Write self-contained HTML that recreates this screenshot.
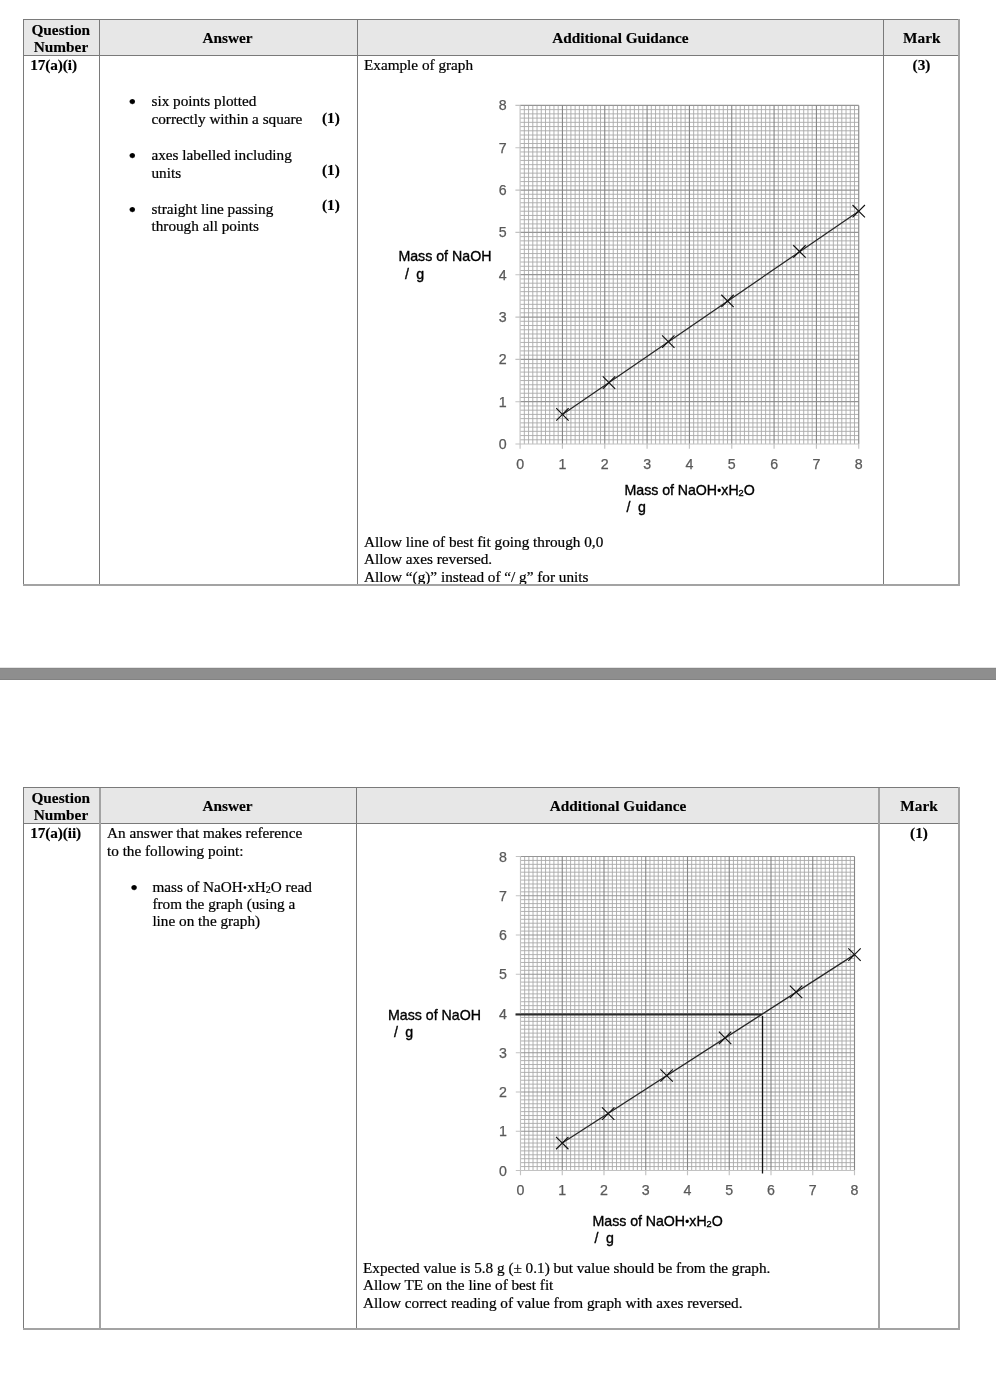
<!DOCTYPE html>
<html lang="en">
<head>
<meta charset="utf-8">
<title>Mark scheme 17(a)</title>
<style>
html,body{margin:0;padding:0;background:#fff;}
body{width:996px;height:1390px;position:relative;overflow:hidden;font-family:"Liberation Serif",serif;color:#000;}
#page{position:absolute;left:0;top:0;width:996px;height:1390px;will-change:transform;}
.tbl{position:absolute;box-sizing:border-box;background:#fff;}
.tbl:before{content:"";position:absolute;left:0;top:0;right:0;bottom:0;box-sizing:border-box;border:solid #7a7a7a;border-width:1px 0 0 1px;z-index:2;}
.tbl:after{content:"";position:absolute;left:0;top:0;right:0;bottom:0;box-sizing:border-box;border:solid #a3a3a3;border-width:0 2px 2px 0;z-index:2;}
.hd{position:absolute;left:0;top:0;right:0;background:#e7e7e7;border-bottom:1px solid #7a7a7a;box-sizing:border-box;}
.vl{position:absolute;top:0;bottom:0;z-index:1;}
.t{position:absolute;line-height:20px;white-space:nowrap;}
.s{font-family:"Liberation Serif",serif;-webkit-text-stroke:.22px #000;}
.b{font-family:"Liberation Serif",serif;font-weight:bold;-webkit-text-stroke:.15px #000;}
.g{font-family:"Liberation Sans",sans-serif;-webkit-text-stroke:.35px #000;}
.bar{position:absolute;left:0;width:996px;top:668px;height:12px;background:#8e8e8e;box-shadow:inset 0 1px 0 #878787,inset 0 -1px 0 #828282,0 -1px 0 rgba(120,120,120,.2);}
.graph{position:absolute;overflow:visible;}
.mn{fill:none;stroke:#a9a9a9;stroke-width:.9;}
.mj{fill:none;stroke:#858585;stroke-width:1.1;}
.mh{stroke:#959595;stroke-width:1.2;}
.tk{fill:none;stroke:#c2c2c2;stroke-width:1.15;}
.ln{fill:none;stroke:#262626;stroke-width:1.25;}
.mk{fill:none;stroke:#111;stroke-width:1.15;}
.rd{fill:none;stroke:#2b2b2b;}
.tl{font-family:"Liberation Sans",sans-serif;font-size:14.2px;fill:#595959;stroke:#595959;stroke-width:.25px;}
.dot{font-size:12.5px;position:relative;top:0;line-height:0;-webkit-text-stroke:0;}
sub{font-size:.65em;vertical-align:baseline;position:relative;top:.1em;line-height:0;}
</style>
</head>
<body>
<div id="page">

<div class="tbl" style="left:23px;top:19px;width:937px;height:567px">
<div class="hd" style="height:37px"></div>
<div class="vl" style="left:76px;width:1px;background:#7a7a7a"></div>
<div class="vl" style="left:334px;width:1px;background:#7a7a7a"></div>
<div class="vl" style="left:860px;width:1px;background:#7a7a7a"></div>
</div>
<div class="t b" style="top:19.84px;font-size:15.3px;left:25.8px;width:70px;text-align:center;">Question</div>
<div class="t b" style="top:36.84px;font-size:15.3px;left:26px;width:70px;text-align:center;">Number</div>
<div class="t b" style="top:27.54px;font-size:15.3px;left:147.5px;width:160px;text-align:center;">Answer</div>
<div class="t b" style="top:27.54px;font-size:15.3px;left:540.4px;width:160px;text-align:center;">Additional Guidance</div>
<div class="t b" style="top:27.54px;font-size:15.3px;left:886.8px;width:70px;text-align:center;">Mark</div>
<div class="t b" style="top:54.84px;font-size:15.3px;left:30.2px;letter-spacing:-.1px;">17(a)(i)</div>
<div class="t s" style="top:54.86px;font-size:15.22px;left:364px;">Example of graph</div>
<div class="t b" style="top:54.84px;font-size:15.3px;left:886.5px;width:70px;text-align:center;">(3)</div>
<div class="t s" style="top:91.78px;font-size:22px;left:128.6px;">&bull;</div>
<div class="t s" style="top:90.86px;font-size:15.22px;left:151.5px;">six points plotted</div>
<div class="t s" style="top:108.86px;font-size:15.22px;left:151.5px;">correctly within a square</div>
<div class="t b" style="top:107.84px;font-size:15.3px;left:322px;">(1)</div>
<div class="t s" style="top:145.77px;font-size:22px;left:128.6px;">&bull;</div>
<div class="t s" style="top:144.86px;font-size:15.22px;left:151.5px;">axes labelled including</div>
<div class="t s" style="top:162.86px;font-size:15.22px;left:151.5px;">units</div>
<div class="t b" style="top:159.84px;font-size:15.3px;left:322px;">(1)</div>
<div class="t s" style="top:199.77px;font-size:22px;left:128.6px;">&bull;</div>
<div class="t s" style="top:198.86px;font-size:15.22px;left:151.5px;">straight line passing</div>
<div class="t s" style="top:215.86px;font-size:15.22px;left:151.5px;">through all points</div>
<div class="t b" style="top:194.84px;font-size:15.3px;left:322px;">(1)</div>
<svg class="graph" style="left:480px;top:90px" width="400" height="390" viewBox="0 0 400 390"><path class="mn" d="M44.33 15.4V354.04M40.1 19.63H378.74M48.57 15.4V354.04M40.1 23.87H378.74M52.8 15.4V354.04M40.1 28.1H378.74M57.03 15.4V354.04M40.1 32.33H378.74M61.27 15.4V354.04M40.1 36.57H378.74M65.5 15.4V354.04M40.1 40.8H378.74M69.73 15.4V354.04M40.1 45.03H378.74M73.96 15.4V354.04M40.1 49.26H378.74M78.2 15.4V354.04M40.1 53.5H378.74M86.66 15.4V354.04M40.1 61.96H378.74M90.9 15.4V354.04M40.1 66.2H378.74M95.13 15.4V354.04M40.1 70.43H378.74M99.36 15.4V354.04M40.1 74.66H378.74M103.6 15.4V354.04M40.1 78.89H378.74M107.83 15.4V354.04M40.1 83.13H378.74M112.06 15.4V354.04M40.1 87.36H378.74M116.29 15.4V354.04M40.1 91.59H378.74M120.53 15.4V354.04M40.1 95.83H378.74M128.99 15.4V354.04M40.1 104.29H378.74M133.23 15.4V354.04M40.1 108.53H378.74M137.46 15.4V354.04M40.1 112.76H378.74M141.69 15.4V354.04M40.1 116.99H378.74M145.93 15.4V354.04M40.1 121.23H378.74M150.16 15.4V354.04M40.1 125.46H378.74M154.39 15.4V354.04M40.1 129.69H378.74M158.62 15.4V354.04M40.1 133.92H378.74M162.86 15.4V354.04M40.1 138.16H378.74M171.32 15.4V354.04M40.1 146.62H378.74M175.56 15.4V354.04M40.1 150.86H378.74M179.79 15.4V354.04M40.1 155.09H378.74M184.02 15.4V354.04M40.1 159.32H378.74M188.26 15.4V354.04M40.1 163.56H378.74M192.49 15.4V354.04M40.1 167.79H378.74M196.72 15.4V354.04M40.1 172.02H378.74M200.95 15.4V354.04M40.1 176.25H378.74M205.19 15.4V354.04M40.1 180.49H378.74M213.65 15.4V354.04M40.1 188.95H378.74M217.89 15.4V354.04M40.1 193.19H378.74M222.12 15.4V354.04M40.1 197.42H378.74M226.35 15.4V354.04M40.1 201.65H378.74M230.59 15.4V354.04M40.1 205.88H378.74M234.82 15.4V354.04M40.1 210.12H378.74M239.05 15.4V354.04M40.1 214.35H378.74M243.28 15.4V354.04M40.1 218.58H378.74M247.52 15.4V354.04M40.1 222.82H378.74M255.98 15.4V354.04M40.1 231.28H378.74M260.22 15.4V354.04M40.1 235.52H378.74M264.45 15.4V354.04M40.1 239.75H378.74M268.68 15.4V354.04M40.1 243.98H378.74M272.92 15.4V354.04M40.1 248.22H378.74M277.15 15.4V354.04M40.1 252.45H378.74M281.38 15.4V354.04M40.1 256.68H378.74M285.61 15.4V354.04M40.1 260.91H378.74M289.85 15.4V354.04M40.1 265.15H378.74M298.31 15.4V354.04M40.1 273.61H378.74M302.55 15.4V354.04M40.1 277.85H378.74M306.78 15.4V354.04M40.1 282.08H378.74M311.01 15.4V354.04M40.1 286.31H378.74M315.25 15.4V354.04M40.1 290.54H378.74M319.48 15.4V354.04M40.1 294.78H378.74M323.71 15.4V354.04M40.1 299.01H378.74M327.94 15.4V354.04M40.1 303.24H378.74M332.18 15.4V354.04M40.1 307.48H378.74M340.64 15.4V354.04M40.1 315.94H378.74M344.88 15.4V354.04M40.1 320.18H378.74M349.11 15.4V354.04M40.1 324.41H378.74M353.34 15.4V354.04M40.1 328.64H378.74M357.58 15.4V354.04M40.1 332.88H378.74M361.81 15.4V354.04M40.1 337.11H378.74M366.04 15.4V354.04M40.1 341.34H378.74M370.27 15.4V354.04M40.1 345.57H378.74M374.51 15.4V354.04M40.1 349.81H378.74"/><path class="mj mh" d="M40.1 15.4H378.74M40.1 57.73H378.74M40.1 100.06H378.74M40.1 142.39H378.74M40.1 184.72H378.74M40.1 227.05H378.74M40.1 269.38H378.74M40.1 311.71H378.74"/><path class="mj" d="M82.43 15.4V354.04M124.76 15.4V354.04M167.09 15.4V354.04M209.42 15.4V354.04M251.75 15.4V354.04M294.08 15.4V354.04M336.41 15.4V354.04M378.74 15.4V354.04"/><path class="tk" d="M40.1 15.4V354.04H378.74M40.1 354.04v4.8M35.4 15.4h4.7M82.43 354.04v4.8M35.4 57.73h4.7M124.76 354.04v4.8M35.4 100.06h4.7M167.09 354.04v4.8M35.4 142.39h4.7M209.42 354.04v4.8M35.4 184.72h4.7M251.75 354.04v4.8M35.4 227.05h4.7M294.08 354.04v4.8M35.4 269.38h4.7M336.41 354.04v4.8M35.4 311.71h4.7M378.74 354.04v4.8M35.4 354.04h4.7"/><path class="ln" d="M82.43 324.41L378.74 121.22"/><path class="mk" d="M76.23 318.21l12.4 12.4M76.23 330.61l12.4 -12.4M122.79 286.46l12.4 12.4M122.79 298.86l12.4 -12.4M182.06 245.4l12.4 12.4M182.06 257.8l12.4 -12.4M241.32 204.76l12.4 12.4M241.32 217.16l12.4 -12.4M313.28 155.24l12.4 12.4M313.28 167.64l12.4 -12.4M372.54 115.02l12.4 12.4M372.54 127.42l12.4 -12.4"/><text class="tl" x="40.1" y="378.64" text-anchor="middle">0</text><text class="tl" x="22.6" y="359.04" text-anchor="middle">0</text><text class="tl" x="82.43" y="378.64" text-anchor="middle">1</text><text class="tl" x="22.6" y="316.71" text-anchor="middle">1</text><text class="tl" x="124.76" y="378.64" text-anchor="middle">2</text><text class="tl" x="22.6" y="274.38" text-anchor="middle">2</text><text class="tl" x="167.09" y="378.64" text-anchor="middle">3</text><text class="tl" x="22.6" y="232.05" text-anchor="middle">3</text><text class="tl" x="209.42" y="378.64" text-anchor="middle">4</text><text class="tl" x="22.6" y="189.72" text-anchor="middle">4</text><text class="tl" x="251.75" y="378.64" text-anchor="middle">5</text><text class="tl" x="22.6" y="147.39" text-anchor="middle">5</text><text class="tl" x="294.08" y="378.64" text-anchor="middle">6</text><text class="tl" x="22.6" y="105.06" text-anchor="middle">6</text><text class="tl" x="336.41" y="378.64" text-anchor="middle">7</text><text class="tl" x="22.6" y="62.73" text-anchor="middle">7</text><text class="tl" x="378.74" y="378.64" text-anchor="middle">8</text><text class="tl" x="22.6" y="20.4" text-anchor="middle">8</text></svg>
<div class="t g" style="top:245.88px;font-size:14.2px;left:398.4px;">Mass of NaOH</div>
<div class="t g" style="top:263.68px;font-size:14.2px;left:405px;word-spacing:3.4px;">/ g</div>
<div class="t g" style="top:479.58px;font-size:14.2px;left:624.6px;letter-spacing:-.05px;">Mass of NaOH<span class='dot'>&bull;</span>xH<sub>2</sub>O</div>
<div class="t g" style="top:497.48px;font-size:14.2px;left:626.6px;word-spacing:3.4px;">/ g</div>
<div class="t s" style="top:531.86px;font-size:15.22px;left:364px;">Allow line of best fit going through 0,0</div>
<div class="t s" style="top:549.36px;font-size:15.22px;left:364px;">Allow axes reversed.</div>
<div class="t s" style="top:566.86px;font-size:15.22px;left:364px;">Allow &ldquo;(g)&rdquo; instead of &ldquo;/ g&rdquo; for units</div>
<div class="bar"></div>
<div class="tbl" style="left:23px;top:787px;width:937px;height:543px">
<div class="hd" style="height:37px"></div>
<div class="vl" style="left:76px;width:2px;background:#a3a3a3"></div>
<div class="vl" style="left:333px;width:1px;background:#7a7a7a"></div>
<div class="vl" style="left:855px;width:2px;background:#a3a3a3"></div>
</div>
<div class="t b" style="top:787.84px;font-size:15.3px;left:25.8px;width:70px;text-align:center;">Question</div>
<div class="t b" style="top:804.84px;font-size:15.3px;left:26px;width:70px;text-align:center;">Number</div>
<div class="t b" style="top:795.84px;font-size:15.3px;left:147.5px;width:160px;text-align:center;">Answer</div>
<div class="t b" style="top:795.84px;font-size:15.3px;left:538px;width:160px;text-align:center;">Additional Guidance</div>
<div class="t b" style="top:795.84px;font-size:15.3px;left:884px;width:70px;text-align:center;">Mark</div>
<div class="t b" style="top:822.84px;font-size:15.3px;left:30.2px;letter-spacing:-.1px;">17(a)(ii)</div>
<div class="t b" style="top:822.84px;font-size:15.3px;left:884px;width:70px;text-align:center;">(1)</div>
<div class="t s" style="top:822.86px;font-size:15.22px;left:107px;">An answer that makes reference</div>
<div class="t s" style="top:840.86px;font-size:15.22px;left:107px;">to the following point:</div>
<div class="t s" style="top:877.78px;font-size:22px;left:130.2px;">&bull;</div>
<div class="t s" style="top:876.86px;font-size:15.22px;left:152.4px;">mass of NaOH<span class='dot'>&bull;</span>xH<sub>2</sub>O read</div>
<div class="t s" style="top:894.06px;font-size:15.22px;left:152.4px;">from the graph (using a</div>
<div class="t s" style="top:911.26px;font-size:15.22px;left:152.4px;">line on the graph)</div>
<svg class="graph" style="left:480px;top:840px" width="400" height="370" viewBox="0 0 400 370"><path class="mn" d="M44.67 16.5V330.5M40.5 20.43H374.5M48.85 16.5V330.5M40.5 24.35H374.5M53.02 16.5V330.5M40.5 28.27H374.5M57.2 16.5V330.5M40.5 32.2H374.5M61.38 16.5V330.5M40.5 36.12H374.5M65.55 16.5V330.5M40.5 40.05H374.5M69.72 16.5V330.5M40.5 43.98H374.5M73.9 16.5V330.5M40.5 47.9H374.5M78.08 16.5V330.5M40.5 51.83H374.5M86.42 16.5V330.5M40.5 59.67H374.5M90.6 16.5V330.5M40.5 63.6H374.5M94.78 16.5V330.5M40.5 67.53H374.5M98.95 16.5V330.5M40.5 71.45H374.5M103.12 16.5V330.5M40.5 75.38H374.5M107.3 16.5V330.5M40.5 79.3H374.5M111.47 16.5V330.5M40.5 83.22H374.5M115.65 16.5V330.5M40.5 87.15H374.5M119.83 16.5V330.5M40.5 91.08H374.5M128.18 16.5V330.5M40.5 98.92H374.5M132.35 16.5V330.5M40.5 102.85H374.5M136.53 16.5V330.5M40.5 106.78H374.5M140.7 16.5V330.5M40.5 110.7H374.5M144.88 16.5V330.5M40.5 114.62H374.5M149.05 16.5V330.5M40.5 118.55H374.5M153.22 16.5V330.5M40.5 122.47H374.5M157.4 16.5V330.5M40.5 126.4H374.5M161.57 16.5V330.5M40.5 130.32H374.5M169.93 16.5V330.5M40.5 138.18H374.5M174.1 16.5V330.5M40.5 142.1H374.5M178.28 16.5V330.5M40.5 146.03H374.5M182.45 16.5V330.5M40.5 149.95H374.5M186.62 16.5V330.5M40.5 153.88H374.5M190.8 16.5V330.5M40.5 157.8H374.5M194.97 16.5V330.5M40.5 161.72H374.5M199.15 16.5V330.5M40.5 165.65H374.5M203.32 16.5V330.5M40.5 169.57H374.5M211.68 16.5V330.5M40.5 177.43H374.5M215.85 16.5V330.5M40.5 181.35H374.5M220.03 16.5V330.5M40.5 185.28H374.5M224.2 16.5V330.5M40.5 189.2H374.5M228.38 16.5V330.5M40.5 193.12H374.5M232.55 16.5V330.5M40.5 197.05H374.5M236.72 16.5V330.5M40.5 200.97H374.5M240.9 16.5V330.5M40.5 204.9H374.5M245.07 16.5V330.5M40.5 208.82H374.5M253.43 16.5V330.5M40.5 216.68H374.5M257.6 16.5V330.5M40.5 220.6H374.5M261.77 16.5V330.5M40.5 224.53H374.5M265.95 16.5V330.5M40.5 228.45H374.5M270.12 16.5V330.5M40.5 232.38H374.5M274.3 16.5V330.5M40.5 236.3H374.5M278.48 16.5V330.5M40.5 240.22H374.5M282.65 16.5V330.5M40.5 244.15H374.5M286.82 16.5V330.5M40.5 248.07H374.5M295.18 16.5V330.5M40.5 255.93H374.5M299.35 16.5V330.5M40.5 259.85H374.5M303.52 16.5V330.5M40.5 263.77H374.5M307.7 16.5V330.5M40.5 267.7H374.5M311.88 16.5V330.5M40.5 271.62H374.5M316.05 16.5V330.5M40.5 275.55H374.5M320.23 16.5V330.5M40.5 279.48H374.5M324.4 16.5V330.5M40.5 283.4H374.5M328.57 16.5V330.5M40.5 287.32H374.5M336.93 16.5V330.5M40.5 295.18H374.5M341.1 16.5V330.5M40.5 299.1H374.5M345.27 16.5V330.5M40.5 303.02H374.5M349.45 16.5V330.5M40.5 306.95H374.5M353.62 16.5V330.5M40.5 310.88H374.5M357.8 16.5V330.5M40.5 314.8H374.5M361.98 16.5V330.5M40.5 318.73H374.5M366.15 16.5V330.5M40.5 322.65H374.5M370.32 16.5V330.5M40.5 326.57H374.5"/><path class="mj mh" d="M40.5 16.5H374.5M40.5 55.75H374.5M40.5 95H374.5M40.5 134.25H374.5M40.5 173.5H374.5M40.5 212.75H374.5M40.5 252H374.5M40.5 291.25H374.5"/><path class="mj" d="M82.25 16.5V330.5M124 16.5V330.5M165.75 16.5V330.5M207.5 16.5V330.5M249.25 16.5V330.5M291 16.5V330.5M332.75 16.5V330.5M374.5 16.5V330.5"/><path class="tk" d="M40.5 16.5V330.5H374.5M40.5 330.5v4.8M35.8 16.5h4.7M82.25 330.5v4.8M35.8 55.75h4.7M124 330.5v4.8M35.8 95h4.7M165.75 330.5v4.8M35.8 134.25h4.7M207.5 330.5v4.8M35.8 173.5h4.7M249.25 330.5v4.8M35.8 212.75h4.7M291 330.5v4.8M35.8 252h4.7M332.75 330.5v4.8M35.8 291.25h4.7M374.5 330.5v4.8M35.8 330.5h4.7"/><path class="rd" style="stroke-width:1.9" d="M35.5 174.5H281.5"/><path class="rd" style="stroke-width:1.3;stroke:#111" d="M282.5 176V333.5"/><path class="ln" d="M82.25 303.02L374.5 114.62"/><path class="mk" d="M76.05 296.82l12.4 12.4M76.05 309.22l12.4 -12.4M121.98 267.39l12.4 12.4M121.98 279.79l12.4 -12.4M180.43 229.31l12.4 12.4M180.43 241.71l12.4 -12.4M238.88 191.64l12.4 12.4M238.88 204.03l12.4 -12.4M309.85 145.71l12.4 12.4M309.85 158.11l12.4 -12.4M368.3 108.42l12.4 12.4M368.3 120.83l12.4 -12.4"/><text class="tl" x="40.5" y="355.1" text-anchor="middle">0</text><text class="tl" x="23" y="335.5" text-anchor="middle">0</text><text class="tl" x="82.25" y="355.1" text-anchor="middle">1</text><text class="tl" x="23" y="296.25" text-anchor="middle">1</text><text class="tl" x="124" y="355.1" text-anchor="middle">2</text><text class="tl" x="23" y="257" text-anchor="middle">2</text><text class="tl" x="165.75" y="355.1" text-anchor="middle">3</text><text class="tl" x="23" y="217.75" text-anchor="middle">3</text><text class="tl" x="207.5" y="355.1" text-anchor="middle">4</text><text class="tl" x="23" y="178.5" text-anchor="middle">4</text><text class="tl" x="249.25" y="355.1" text-anchor="middle">5</text><text class="tl" x="23" y="139.25" text-anchor="middle">5</text><text class="tl" x="291" y="355.1" text-anchor="middle">6</text><text class="tl" x="23" y="100" text-anchor="middle">6</text><text class="tl" x="332.75" y="355.1" text-anchor="middle">7</text><text class="tl" x="23" y="60.75" text-anchor="middle">7</text><text class="tl" x="374.5" y="355.1" text-anchor="middle">8</text><text class="tl" x="23" y="21.5" text-anchor="middle">8</text></svg>
<div class="t g" style="top:1004.58px;font-size:14.2px;left:388px;">Mass of NaOH</div>
<div class="t g" style="top:1022.08px;font-size:14.2px;left:394px;word-spacing:3.4px;">/ g</div>
<div class="t g" style="top:1210.58px;font-size:14.2px;left:592.6px;letter-spacing:-.05px;">Mass of NaOH<span class='dot'>&bull;</span>xH<sub>2</sub>O</div>
<div class="t g" style="top:1228.08px;font-size:14.2px;left:594.6px;word-spacing:3.4px;">/ g</div>
<div class="t s" style="top:1257.86px;font-size:15.22px;left:363px;">Expected value is 5.8 g (&plusmn; 0.1) but value should be from the graph.</div>
<div class="t s" style="top:1275.36px;font-size:15.22px;left:363px;">Allow TE on the line of best fit</div>
<div class="t s" style="top:1292.86px;font-size:15.22px;left:363px;">Allow correct reading of value from graph with axes reversed.</div>
</div>
</body>
</html>
